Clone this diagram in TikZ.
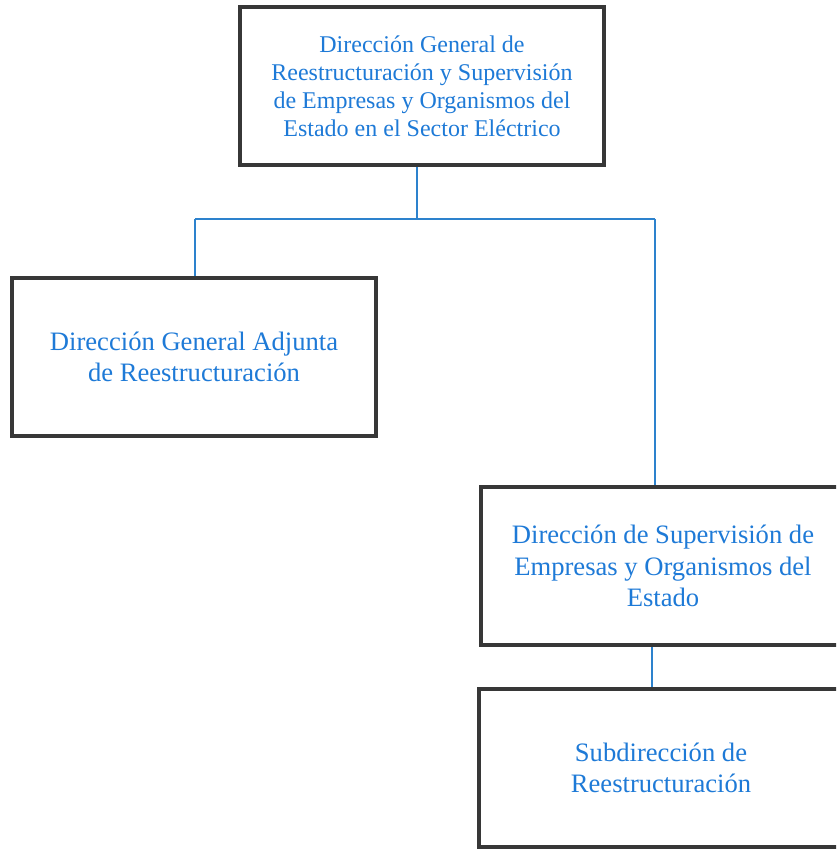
\documentclass[tikz,border=0pt]{standalone}
\usepackage{fontspec}
\setmainfont{Liberation Serif}
\definecolor{orgblue}{RGB}{30,122,215}
\definecolor{orgline}{RGB}{45,130,205}
\definecolor{orgframe}{RGB}{55,55,55}
\tikzset{
    unitbox/.style={draw=orgframe, line width=2pt, fill=white, inner sep=0pt,
        minimum width=182pt, minimum height=79pt, align=center, text=orgblue,
        font=\fontsize{13.3}{15.7}\selectfont},
    headbox/.style={unitbox, font=\fontsize{12}{14}\selectfont},
    link/.style={draw=orgline, line width=0.9pt}
}
\begin{document}
\begin{tikzpicture}[x=0.5pt,y=-0.5pt]
        \clip ( 0, 0 ) rectangle ( 836, 849 );
        \fill[white] ( 0, 0 ) rectangle ( 836, 849 );

        % верх
        \node[headbox] (dg) at ( 422, 86 ) {Dirección General de\\Reestructuración y Supervisión\\de Empresas y Organismos del\\Estado en el Sector Eléctrico};

        % слева
        \node[unitbox] (adj) at ( 194, 357 ) {Dirección General Adjunta\\de Reestructuración};

        % справа
        \node[unitbox] (sup) at ( 663, 566 ) {Dirección de Supervisión de\\Empresas y Organismos del\\Estado};
        \node[unitbox] (sub) at ( 661, 768 ) {Subdirección de\\Reestructuración};

        % шина
        \coordinate (bus) at ( 417, 219 );
        \coordinate (busL) at ( 195, 219 );
        \coordinate (busR) at ( 655, 219 );
        \coordinate (drop) at ( 652, 660 );

        % связи
        \draw[link] (bus |- dg.south) -- (bus);
        \draw[link] (busL) -- (busR);
        \draw[link] (busL) -- (busL |- adj.north);
        \draw[link] (busR) -- (busR |- sup.north);
        \draw[link] (drop |- sup.south) -- (drop |- sub.north);
\end{tikzpicture}
\end{document}
